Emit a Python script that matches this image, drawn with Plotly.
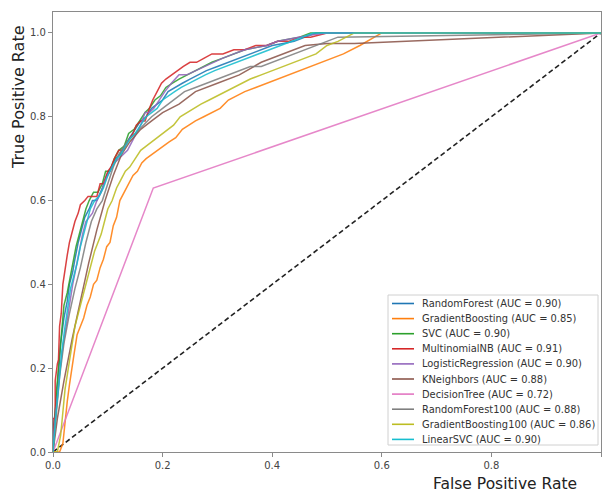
import plotly.graph_objects as go

names = ["RandomForest", "GradientBoosting", "SVC", "MultinomialNB", "LogisticRegression",
         "KNeighbors", "DecisionTree", "RandomForest100", "GradientBoosting100", "LinearSVC"]
aucs = [0.90, 0.85, 0.90, 0.91, 0.90, 0.88, 0.72, 0.88, 0.86, 0.90]
colors = ["#1f77b4", "#ff7f0e", "#2ca02c", "#d62728", "#9467bd",
          "#8c564b", "#e377c2", "#7f7f7f", "#bcbd22", "#17becf"]

rf_fpr = [0,0,0.006,0.01,0.014,0.02,0.026,0.03,0.036,0.04,0.046,0.052,0.058,0.066,0.072,0.08,0.09,0.098,0.106,0.114,0.122,0.13,0.14,0.15,0.16,0.17,0.18,0.19,0.2,0.21,0.222,0.236,0.25,0.266,0.28,0.3,0.32,0.34,0.36,0.38,0.4,0.42,0.44,0.46,0.48,1.0]
rf_tpr = [0,0.05,0.12,0.2,0.26,0.32,0.36,0.4,0.43,0.46,0.5,0.53,0.56,0.58,0.6,0.6,0.63,0.66,0.68,0.7,0.71,0.73,0.75,0.77,0.79,0.8,0.82,0.83,0.84,0.86,0.87,0.88,0.89,0.9,0.91,0.92,0.93,0.94,0.95,0.96,0.97,0.975,0.98,0.99,1.0,1.0]

gb_fpr = [0,0.012,0.018,0.022,0.026,0.03,0.034,0.038,0.044,0.05,0.056,0.062,0.068,0.074,0.08,0.086,0.092,0.098,0.104,0.11,0.116,0.122,0.13,0.138,0.146,0.154,0.162,0.17,0.18,0.19,0.2,0.212,0.224,0.236,0.248,0.26,0.275,0.29,0.305,0.32,0.335,0.35,0.37,0.39,0.41,0.43,0.45,0.47,0.49,0.51,0.53,0.56,0.6,1.0]
gb_tpr = [0,0,0.02,0.08,0.12,0.16,0.2,0.23,0.28,0.3,0.32,0.35,0.37,0.4,0.41,0.44,0.46,0.49,0.5,0.54,0.56,0.6,0.62,0.64,0.66,0.67,0.69,0.7,0.71,0.72,0.73,0.74,0.75,0.77,0.78,0.79,0.8,0.81,0.82,0.84,0.85,0.86,0.87,0.88,0.89,0.9,0.91,0.92,0.93,0.94,0.95,0.97,1.0,1.0]

svc_fpr = [0,0.002,0.006,0.01,0.016,0.02,0.026,0.032,0.036,0.042,0.048,0.054,0.06,0.066,0.074,0.082,0.09,0.096,0.104,0.112,0.12,0.13,0.138,0.148,0.158,0.168,0.176,0.186,0.196,0.206,0.218,0.23,0.245,0.26,0.275,0.29,0.31,0.33,0.35,0.37,0.39,0.41,0.43,0.45,0.47,1.0]
svc_tpr = [0,0.06,0.14,0.2,0.28,0.35,0.38,0.42,0.45,0.49,0.52,0.55,0.58,0.6,0.62,0.62,0.64,0.67,0.67,0.7,0.72,0.73,0.76,0.77,0.79,0.81,0.82,0.84,0.85,0.87,0.88,0.89,0.9,0.91,0.92,0.93,0.94,0.95,0.96,0.965,0.97,0.98,0.985,0.99,1.0,1.0]

mnb_fpr = [0,0,0.004,0.004,0.008,0.01,0.012,0.015,0.018,0.022,0.026,0.03,0.036,0.04,0.046,0.05,0.058,0.064,0.072,0.08,0.086,0.092,0.1,0.106,0.112,0.12,0.128,0.136,0.146,0.152,0.16,0.168,0.176,0.182,0.19,0.198,0.206,0.216,0.226,0.238,0.25,0.262,0.276,0.29,0.31,0.33,0.35,0.37,0.39,0.41,0.43,0.45,0.47,0.5,1.0]
mnb_tpr = [0,0.08,0.08,0.17,0.21,0.22,0.3,0.33,0.4,0.44,0.47,0.5,0.53,0.55,0.57,0.59,0.6,0.61,0.61,0.61,0.64,0.64,0.67,0.68,0.7,0.72,0.72,0.74,0.76,0.78,0.79,0.79,0.82,0.84,0.86,0.88,0.89,0.9,0.91,0.92,0.93,0.93,0.94,0.95,0.95,0.96,0.96,0.97,0.97,0.98,0.98,0.99,0.99,1.0,1.0]

lr_fpr = [0,0.002,0.008,0.012,0.018,0.024,0.03,0.036,0.042,0.048,0.054,0.06,0.066,0.072,0.08,0.088,0.096,0.104,0.112,0.12,0.128,0.136,0.144,0.152,0.16,0.168,0.176,0.184,0.194,0.204,0.216,0.23,0.244,0.26,0.276,0.292,0.31,0.33,0.35,0.37,0.39,0.41,0.43,0.45,0.47,0.5,1.0]
lr_tpr = [0,0.05,0.13,0.19,0.25,0.3,0.36,0.4,0.44,0.48,0.52,0.55,0.56,0.57,0.6,0.62,0.65,0.67,0.69,0.7,0.71,0.72,0.74,0.76,0.78,0.81,0.81,0.82,0.84,0.86,0.88,0.9,0.9,0.91,0.92,0.93,0.94,0.95,0.96,0.965,0.97,0.98,0.985,0.99,0.995,1.0,1.0]

knn_fpr = [0,0.008,0.02,0.035,0.05,0.065,0.08,0.095,0.11,0.125,0.14,0.16,0.18,0.2,0.23,0.26,0.3,0.34,0.38,0.42,0.46,0.5,0.55,1.0]
knn_tpr = [0,0.08,0.17,0.27,0.36,0.45,0.53,0.6,0.66,0.71,0.74,0.77,0.79,0.81,0.83,0.86,0.88,0.9,0.93,0.95,0.97,0.975,0.975,1.0]

dt_fpr = [0, 0.183, 1.0]
dt_tpr = [0, 0.63, 1.0]

rf100_fpr = [0,0.005,0.012,0.02,0.03,0.04,0.05,0.06,0.07,0.08,0.09,0.1,0.11,0.12,0.135,0.15,0.165,0.18,0.2,0.22,0.24,0.26,0.28,0.3,0.32,0.34,0.36,0.38,0.4,0.42,0.44,0.46,0.48,0.5,0.52,1.0]
rf100_tpr = [0,0.08,0.18,0.26,0.33,0.39,0.44,0.5,0.55,0.58,0.6,0.64,0.68,0.71,0.74,0.76,0.78,0.8,0.82,0.84,0.86,0.87,0.88,0.89,0.9,0.91,0.92,0.92,0.93,0.94,0.95,0.96,0.97,0.98,0.99,1.0]

gb100_fpr = [0,0.008,0.014,0.018,0.022,0.028,0.034,0.04,0.046,0.052,0.058,0.064,0.07,0.076,0.082,0.088,0.094,0.1,0.108,0.116,0.124,0.132,0.14,0.15,0.16,0.17,0.18,0.19,0.2,0.21,0.22,0.232,0.244,0.256,0.27,0.285,0.3,0.315,0.33,0.345,0.36,0.38,0.4,0.42,0.44,0.46,0.48,0.5,0.52,0.55,1.0]
gb100_tpr = [0,0,0.04,0.1,0.15,0.2,0.25,0.3,0.33,0.36,0.39,0.42,0.45,0.48,0.5,0.52,0.55,0.58,0.6,0.63,0.65,0.67,0.68,0.7,0.72,0.73,0.74,0.75,0.76,0.77,0.78,0.8,0.81,0.82,0.83,0.84,0.85,0.86,0.87,0.88,0.89,0.9,0.91,0.92,0.93,0.94,0.95,0.97,0.98,1.0,1.0]

lsvc_fpr = [0,0.002,0.006,0.012,0.016,0.022,0.028,0.032,0.038,0.044,0.05,0.056,0.062,0.068,0.076,0.084,0.092,0.1,0.108,0.116,0.124,0.132,0.142,0.15,0.16,0.17,0.18,0.19,0.2,0.21,0.222,0.234,0.248,0.262,0.278,0.295,0.315,0.335,0.355,0.375,0.395,0.415,0.435,0.455,0.475,1.0]
lsvc_tpr = [0,0.04,0.1,0.18,0.24,0.3,0.35,0.39,0.42,0.45,0.49,0.52,0.55,0.58,0.6,0.61,0.63,0.66,0.68,0.7,0.71,0.73,0.75,0.76,0.78,0.8,0.81,0.82,0.84,0.85,0.86,0.87,0.88,0.89,0.9,0.91,0.92,0.93,0.94,0.95,0.96,0.97,0.98,0.99,1.0,1.0]

chance = [0, 1]
tick_vals = [0, 0.2, 0.4, 0.6, 0.8, 1.0]
tick_text = ["0.0", "0.2", "0.4", "0.6", "0.8", "1.0"]

curves = [(rf_fpr, rf_tpr), (gb_fpr, gb_tpr), (svc_fpr, svc_tpr), (mnb_fpr, mnb_tpr),
          (lr_fpr, lr_tpr), (knn_fpr, knn_tpr), (dt_fpr, dt_tpr), (rf100_fpr, rf100_tpr),
          (gb100_fpr, gb100_tpr), (lsvc_fpr, lsvc_tpr)]
labels = [f"{nm} (AUC = {a:.2f})" for nm, a in zip(names, aucs)]

fig = go.Figure()
fig.add_trace(go.Scatter(x=chance, y=chance, mode="lines", showlegend=False,
                         line=dict(color="#222222", width=1.6, dash="5px,3px")))
for (fx, ty), lab, c in zip(curves, labels, colors):
    fig.add_trace(go.Scatter(x=fx, y=ty, mode="lines", name=lab, showlegend=False,
                             line=dict(color=c, width=1.5), opacity=0.88))

axis_common = dict(showgrid=False, zeroline=False, showline=True, mirror=True,
                   linecolor="#8a8a8a", linewidth=1.2, ticks="outside", ticklen=4,
                   tickcolor="#8a8a8a", tickfont=dict(size=10, color="#444444"),
                   tickvals=tick_vals, ticktext=tick_text)
fig.update_xaxes(range=[0, 1], **axis_common)
fig.update_yaxes(range=[0, 1.05], **axis_common)

# plot area spans page px 53..601 (x) and 12..452 (y)
PX0, PX1, PY0, PY1 = 53, 601, 12, 452
def px(xp):
    return (xp - PX0) / (PX1 - PX0)
def py(yp):
    return (PY1 - yp) / (PY1 - PY0)

shapes = [dict(type="rect", xref="paper", yref="paper",
               x0=px(388), x1=px(598), y0=py(445), y1=py(295),
               line=dict(color="#d0d0d0", width=1), fillcolor="white", layer="above")]
annotations = []
for i, (lab, c) in enumerate(zip(labels, colors)):
    yc = 303.5 + 15.1 * i
    shapes.append(dict(type="line", xref="paper", yref="paper",
                       x0=px(392), x1=px(414), y0=py(yc), y1=py(yc),
                       line=dict(color=c, width=1.6), layer="above"))
    annotations.append(dict(text=lab, xref="paper", yref="paper", x=px(420), y=py(yc),
                            xanchor="left", yanchor="middle", showarrow=False,
                            font=dict(size=9.9, color="#333333")))

annotations += [
    dict(text="False Positive Rate", xref="paper", yref="paper",
         x=px(505), y=py(484), xanchor="center", yanchor="middle",
         showarrow=False, font=dict(size=15.5, color="#222222")),
    dict(text="True Positive Rate", xref="paper", yref="paper",
         x=px(18), y=py(97), xanchor="center", yanchor="middle", textangle=-90,
         showarrow=False, font=dict(size=16, color="#222222")),
]

fig.update_layout(
    width=606, height=493,
    margin=dict(l=53, r=5, t=12, b=41),
    paper_bgcolor="white", plot_bgcolor="white",
    font=dict(family="DejaVu Sans", color="#222222"),
    showlegend=False,
    shapes=shapes,
    annotations=annotations,
)

fig.write_html("out.html", config={"displayModeBar": False},
               post_script="document.body.style.margin='0';document.body.style.overflow='hidden';")
